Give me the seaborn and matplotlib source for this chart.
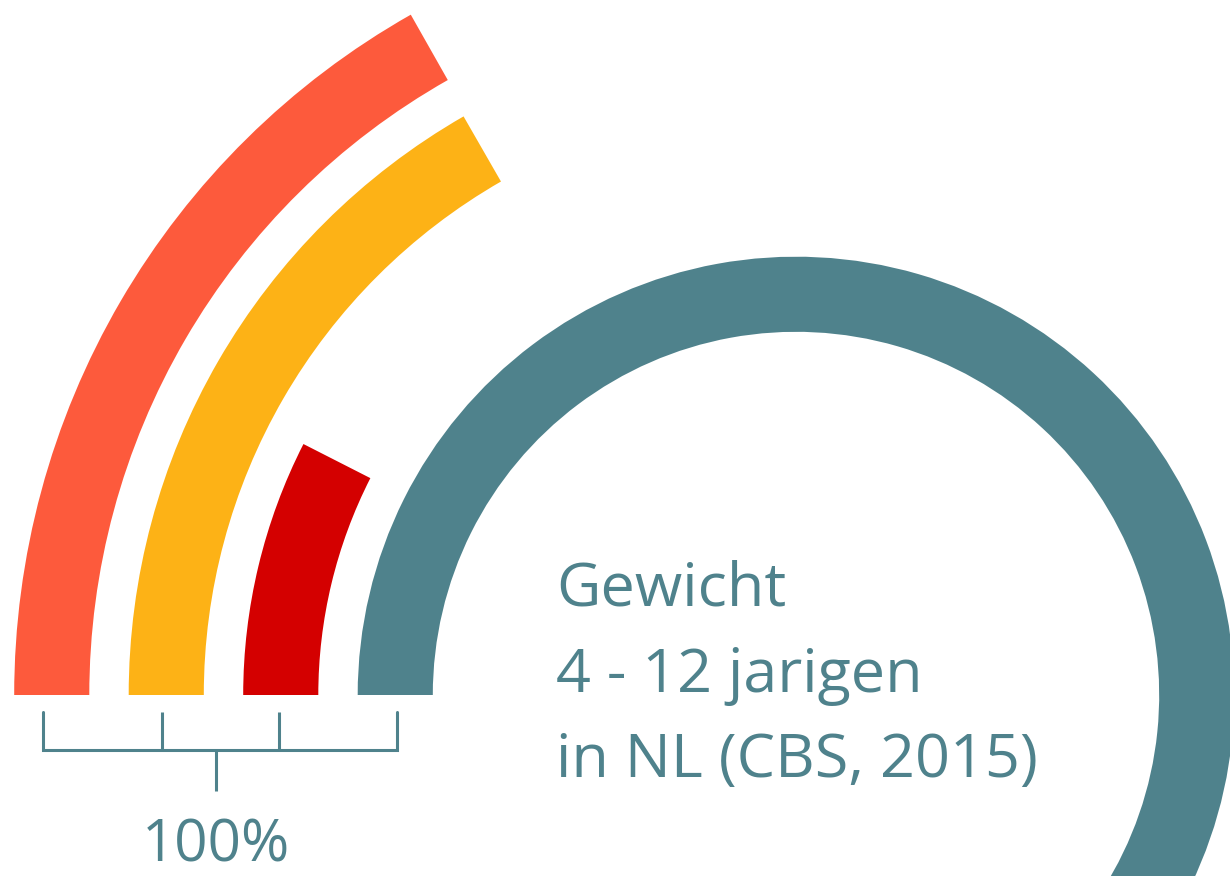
import numpy as np
import pandas as pd
import seaborn as sns
import matplotlib.pyplot as plt

# ring segments, outermost ring first (share of 100%)
segments = ["segment 1", "segment 2", "segment 3", "segment 4"]
percentages = [16.8, 16.7, 7.5, 59.0]
ring_positions = [6.5, 5.5, 4.5, 3.5]
colors = ["#FD5A3C", "#FDB216", "#D40000", "#4F828C"]

title_lines = ["Gewicht", "4 - 12 jarigen", "in NL (CBS, 2015)"]
total_label = "100%"

teal = colors[-1]

sns.set_theme(style="white")
plt.rcParams["font.family"] = ["Open Sans", "DejaVu Sans"]

W, H = 1230, 876
fig = plt.figure(figsize=(W / 100, H / 100), dpi=100)

# polar axes placed so the rings share one centre, partly off the canvas
cx, cy = 796, 695      # centre in pixels (from top-left)
unit = 114.5           # pixels per ring step
rmax = 7.0
half = rmax * unit
ax = fig.add_axes([(cx - half) / W, (H - cy - half) / H, 2 * half / W, 2 * half / H],
                  projection="polar")
ax.set_theta_zero_location("W")
ax.set_theta_direction(-1)

df = pd.DataFrame({
    "segment": segments,
    "ring": ring_positions,
    "angle": np.deg2rad(np.array(percentages) * 3.6),
})
sns.barplot(data=df, x="angle", y="ring", hue="segment",
            palette=dict(zip(segments, colors)), saturation=1, orient="y",
            native_scale=True, width=0.656, errorbar=None, legend=False,
            linewidth=0, ax=ax)
ax.set_xlim(0, 2 * np.pi)
ax.set_ylim(0, rmax)
ax.set_axis_off()

# overlay in pixel coordinates for the bracket and the text
ov = fig.add_axes([0, 0, 1, 1])
ov.set_xlim(0, W)
ov.set_ylim(H, 0)
ov.set_axis_off()

lw = 2.2
ov.plot([43, 43, 397, 397], [712, 750, 750, 712], color=teal, lw=lw,
        solid_joinstyle="miter")
ov.vlines([162, 279], 712, 750, color=teal, lw=lw)
ov.vlines(216, 750, 791, color=teal, lw=lw)
ov.text(216, 875, total_label, ha="center", va="bottom", fontsize=42, color=teal)

for y, line in zip([605, 692, 777], title_lines):
    ov.text(556, y, line, ha="left", va="baseline", fontsize=44, color=teal)

fig.savefig("out.png", dpi=100)
